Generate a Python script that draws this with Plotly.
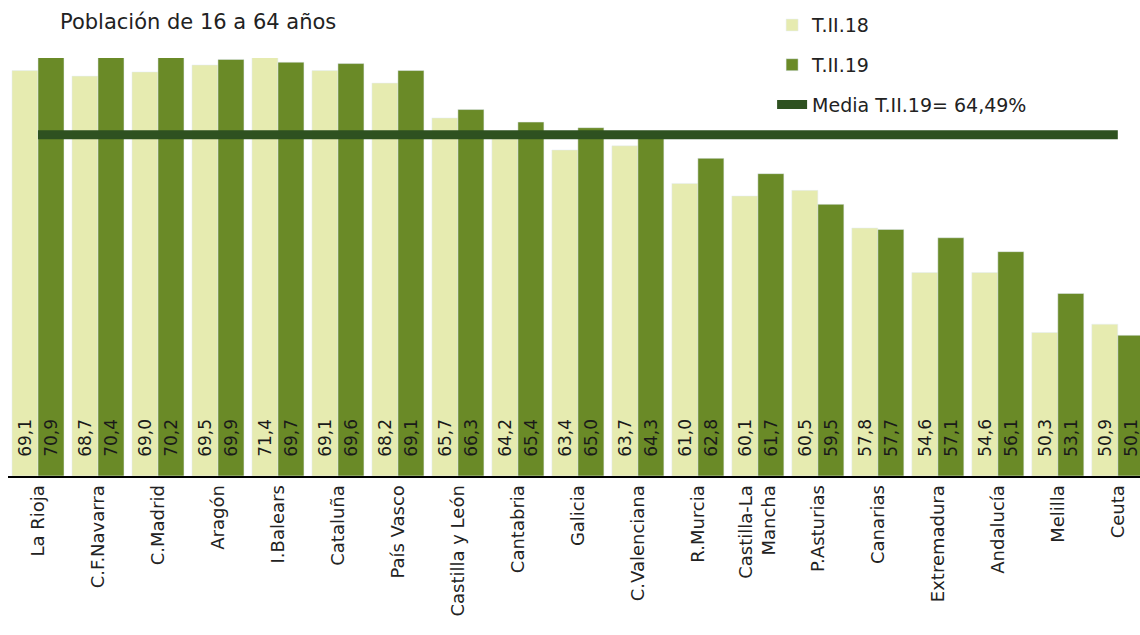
import plotly.graph_objects as go

regiones = ['La Rioja', 'C.F.Navarra', 'C.Madrid', 'Aragón', 'I.Balears', 'Cataluña',
            'País Vasco', 'Castilla y León', 'Cantabria', 'Galicia', 'C.Valenciana',
            'R.Murcia', 'Castilla-La<br>Mancha', 'P.Asturias', 'Canarias', 'Extremadura',
            'Andalucía', 'Melilla', 'Ceuta']
t2_18 = [69.1, 68.7, 69.0, 69.5, 71.4, 69.1, 68.2, 65.7, 64.2, 63.4, 63.7,
         61.0, 60.1, 60.5, 57.8, 54.6, 54.6, 50.3, 50.9]
t2_19 = [70.9, 70.4, 70.2, 69.9, 69.7, 69.6, 69.1, 66.3, 65.4, 65.0, 64.3,
         62.8, 61.7, 59.5, 57.7, 57.1, 56.1, 53.1, 50.1]
media_19 = 64.49

FONT = 'DejaVu Sans'
LIGHT = '#E6EBB0'
DARK = '#6A8A27'
LINE = '#2E5120'
BASE = 40  # bottom of the value axis, bars start here so labels sit at the axis


def fmt(v):
    # comma decimals, nbsp in front to lift the label off the axis a bit
    return '\u00a0\u00a0\u00a0' + f'{v:.1f}'.replace('.', ',')


fig = go.Figure()
for name, vals, color, grp in [('T.II.18', t2_18, LIGHT, 'a'), ('T.II.19', t2_19, DARK, 'b')]:
    fig.add_trace(go.Bar(x=regiones, y=[v - BASE for v in vals], base=BASE, name=name,
                         marker_color=color, text=[fmt(v) for v in vals],
                         textposition='inside', insidetextanchor='start',
                         textangle=-90, constraintext='none', legendgroup=grp,
                         insidetextfont=dict(size=17, color='#1a1a1a', family=FONT)))
fig.add_trace(go.Scatter(x=regiones, y=[media_19] * len(regiones), mode='lines',
                         name='Media T.II.19= 64,49%', legendgroup='c',
                         line=dict(color=LINE, width=9)))

fig.update_layout(
    width=1140, height=635,
    margin=dict(l=8, r=0, t=58, b=159),
    plot_bgcolor='white', paper_bgcolor='white',
    barmode='group', bargap=0.133, bargroupgap=0,
    font=dict(family=FONT, color='#222222', size=17),
    title=dict(text='Población de 16 a 64 años', xref='container', yref='container',
               x=60 / 1140, xanchor='left', y=1 - 22 / 635, yanchor='middle',
               font=dict(size=21, family=FONT, color='#222222')),
    legend=dict(x=0.675, y=1.124, xanchor='left', yanchor='top', bgcolor='rgba(0,0,0,0)',
                font=dict(size=19, family=FONT), tracegroupgap=12, itemwidth=30,
                traceorder='grouped'),
)
fig.update_xaxes(range=[-0.5, 18.37], tickangle=-90, showline=True, linecolor='black',
                 linewidth=2, ticks='', automargin=False,
                 tickfont=dict(size=18, family=FONT, color='#222222'))
fig.update_yaxes(range=[BASE, 70], visible=False, showgrid=False, automargin=False)

fig.write_html('out.html', config={'displayModeBar': False},
               post_script="document.body.style.margin='0';")
